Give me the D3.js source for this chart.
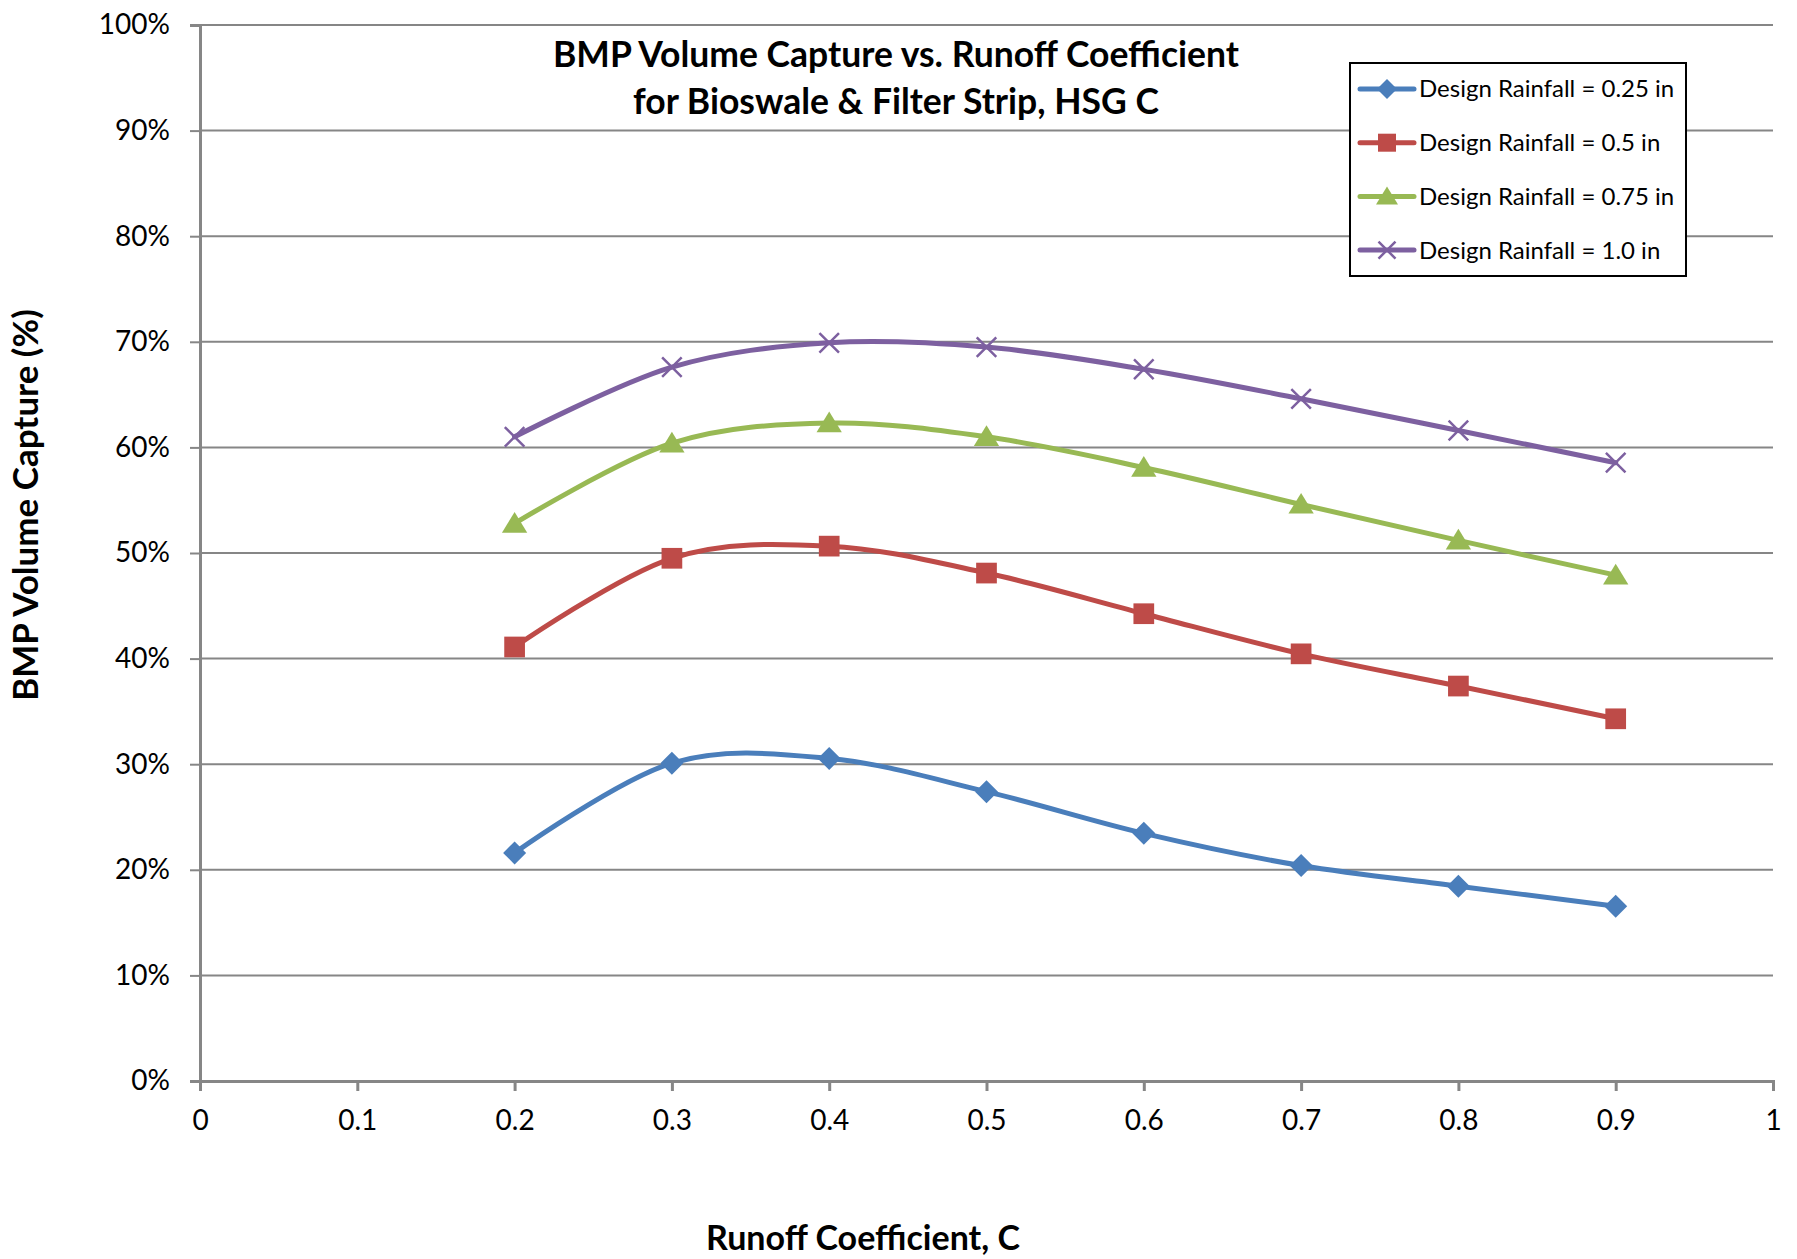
<!DOCTYPE html>
<html>
<head>
<meta charset="utf-8">
<script src="https://cdn.jsdelivr.net/npm/d3@7"></script>
<style>
  html, body { margin: 0; padding: 0; background: #ffffff; }
  svg { display: block; font-family: Lato, "Open Sans", "Liberation Sans", sans-serif; }
</style>
</head>
<body>
<svg id="chart" width="1797" height="1259"></svg>
<script>
// Runoff coefficient values sampled along the x axis
const runoffC = [0.2, 0.3, 0.4, 0.5, 0.6, 0.7, 0.8, 0.9];

// BMP volume capture (%) for each design rainfall depth
const capture025 = [21.6, 30.1, 30.55, 27.4, 23.45, 20.4, 18.45, 16.55];
const capture050 = [41.1, 49.5, 50.65, 48.1, 44.25, 40.45, 37.4, 34.3];
const capture075 = [52.8, 60.4, 62.3, 61.0, 58.1, 54.6, 51.2, 47.9];
const capture100 = [61.0, 67.6, 69.9, 69.5, 67.4, 64.6, 61.6, 58.55];

const seriesNames = [
  "Design Rainfall = 0.25 in",
  "Design Rainfall = 0.5 in",
  "Design Rainfall = 0.75 in",
  "Design Rainfall = 1.0 in"
];

const xTicks = [0, 0.1, 0.2, 0.3, 0.4, 0.5, 0.6, 0.7, 0.8, 0.9, 1];
const yTicks = [0, 10, 20, 30, 40, 50, 60, 70, 80, 90, 100];

const titleLines = ["BMP Volume Capture vs. Runoff Coefficient", "for Bioswale & Filter Strip, HSG C"];
const xTitle = "Runoff Coefficient, C";
const yTitle = "BMP Volume Capture (%)";

const series = [
  { name: seriesNames[0], values: capture025, color: "#4a7ebb", marker: "diamond" },
  { name: seriesNames[1], values: capture050, color: "#be4b48", marker: "square" },
  { name: seriesNames[2], values: capture075, color: "#98b954", marker: "triangle" },
  { name: seriesNames[3], values: capture100, color: "#7d60a0", marker: "cross" }
];

const W = 1797, H = 1259;
const margin = { left: 200, right: 24, top: 25, bottom: 178 };
const plotW = W - margin.left - margin.right;
const plotH = H - margin.top - margin.bottom;

const svg = d3.select("#chart");
svg.append("rect").attr("width", W).attr("height", H).attr("fill", "#ffffff");

const x = d3.scaleLinear().domain([0, 1]).range([margin.left, margin.left + plotW]);
const y = d3.scaleLinear().domain([0, 100]).range([margin.top + plotH, margin.top]);

const gridColor = "#868686";

// Horizontal gridlines
svg.append("g")
  .selectAll("line")
  .data(yTicks.filter(d => d > 0))
  .join("line")
  .attr("x1", x(0)).attr("x2", x(1))
  .attr("y1", d => y(d)).attr("y2", d => y(d))
  .attr("stroke", gridColor).attr("stroke-width", 2);

// Y axis
const yAxis = svg.append("g")
  .attr("transform", `translate(${x(0)},0)`)
  .call(d3.axisLeft(y).tickValues(yTicks).tickSize(10).tickPadding(20).tickFormat(d => d + "%"));
yAxis.select(".domain").attr("stroke", gridColor).attr("stroke-width", 3);
yAxis.selectAll(".tick line").attr("stroke", gridColor).attr("stroke-width", 2);
yAxis.selectAll(".tick text")
  .attr("font-size", 28).attr("fill", "#000").attr("font-family", "Lato, sans-serif");

// X axis
const xAxis = svg.append("g")
  .attr("transform", `translate(0,${y(0)})`)
  .call(d3.axisBottom(x).tickValues(xTicks).tickSize(10).tickPadding(19).tickFormat(d3.format("")));
xAxis.select(".domain").attr("stroke", gridColor).attr("stroke-width", 3);
xAxis.selectAll(".tick line").attr("stroke", gridColor).attr("stroke-width", 3);
xAxis.selectAll(".tick text")
  .attr("font-size", 28).attr("fill", "#000").attr("font-family", "Lato, sans-serif");

// Marker drawing helper
function drawMarker(g, type, color, size) {
  const s = size / 2;
  if (type === "diamond") {
    g.append("path").attr("d", `M0,${-s}L${s},0L0,${s}L${-s},0Z`).attr("fill", color);
  } else if (type === "square") {
    g.append("rect").attr("x", -s * 0.9).attr("y", -s * 0.9).attr("width", s * 1.8).attr("height", s * 1.8).attr("fill", color);
  } else if (type === "triangle") {
    g.append("path").attr("d", `M0,${-s}L${s * 1.1},${s * 0.8}L${-s * 1.1},${s * 0.8}Z`).attr("fill", color);
  } else if (type === "cross") {
    const c = s * 0.85;
    g.append("path").attr("d", `M${-c},${-c}L${c},${c}M${-c},${c}L${c},${-c}`)
      .attr("stroke", color).attr("stroke-width", 2.5).attr("fill", "none");
  }
}

// Smoothed series lines
const line = d3.line()
  .x((d, i) => x(runoffC[i]))
  .y(d => y(d))
  .curve(d3.curveCardinal.tension(0));

const seriesG = svg.append("g");
series.forEach(s => {
  seriesG.append("path")
    .attr("d", line(s.values))
    .attr("fill", "none")
    .attr("stroke", s.color)
    .attr("stroke-width", 5)
    .attr("stroke-linejoin", "round")
    .attr("stroke-linecap", "round");
  s.values.forEach((v, i) => {
    const g = seriesG.append("g").attr("transform", `translate(${x(runoffC[i])},${y(v)})`);
    drawMarker(g, s.marker, s.color, 23);
  });
});

// Chart title
const title = svg.append("text")
  .attr("x", 896).attr("y", 67)
  .attr("text-anchor", "middle")
  .attr("font-size", 35.5).attr("font-weight", "bold").attr("fill", "#000");
titleLines.forEach((t, i) => {
  title.append("tspan").attr("x", 896).attr("dy", i === 0 ? 0 : 47).text(t);
});

// Axis titles
svg.append("text")
  .attr("x", 863).attr("y", 1250)
  .attr("text-anchor", "middle")
  .attr("font-size", 34).attr("font-weight", "bold").attr("fill", "#000")
  .text(xTitle);

svg.append("text")
  .attr("transform", "translate(38,505) rotate(-90)")
  .attr("text-anchor", "middle")
  .attr("font-size", 35).attr("font-weight", "bold").attr("fill", "#000")
  .text(yTitle);

// Legend
const legend = svg.append("g");
legend.append("rect")
  .attr("x", 1350).attr("y", 63).attr("width", 336).attr("height", 213)
  .attr("fill", "#ffffff").attr("stroke", "#000").attr("stroke-width", 2);

series.forEach((s, i) => {
  const ly = 89 + i * 53.7;
  legend.append("line")
    .attr("x1", 1360).attr("x2", 1414).attr("y1", ly).attr("y2", ly)
    .attr("stroke", s.color).attr("stroke-width", 5).attr("stroke-linecap", "round");
  const g = legend.append("g").attr("transform", `translate(1387,${ly})`);
  drawMarker(g, s.marker, s.color, 20);
  legend.append("text")
    .attr("x", 1419).attr("y", ly).attr("dy", "0.35em")
    .attr("font-size", 24).attr("fill", "#000")
    .text(s.name);
});
</script>
</body>
</html>
